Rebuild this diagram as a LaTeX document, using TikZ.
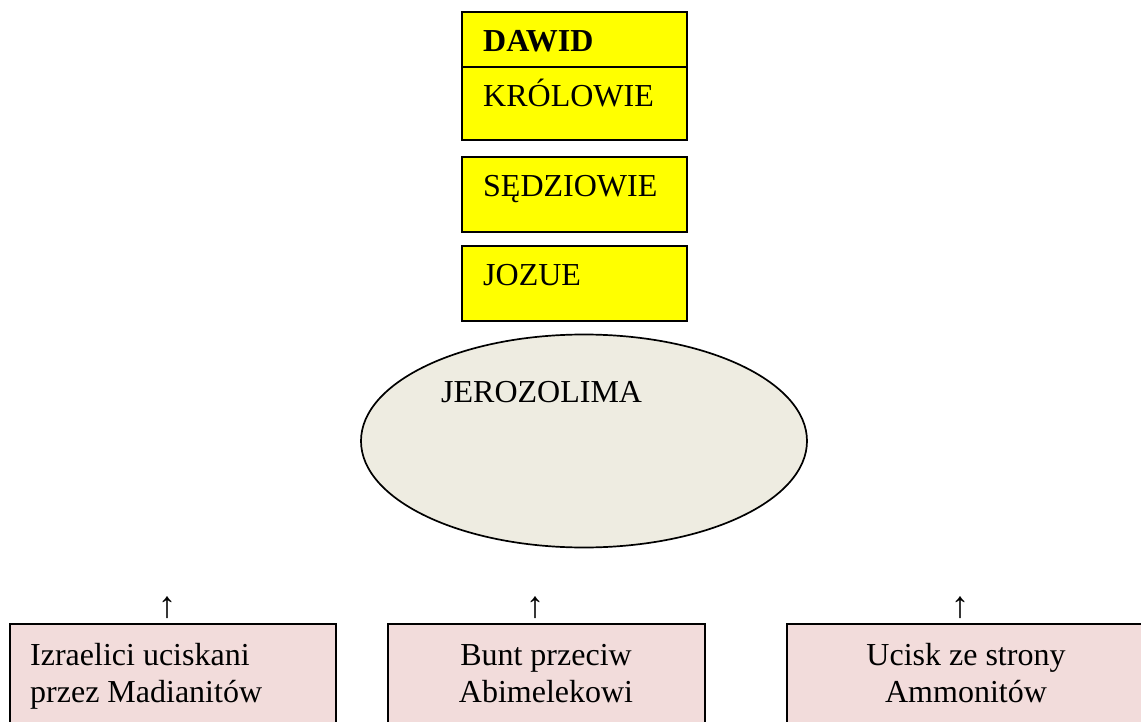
\documentclass[tikz,border=0pt]{standalone}
\usepackage{fontspec}
\setmainfont{Liberation Serif}
\usetikzlibrary{shapes.geometric}
\definecolor{boxyellow}{HTML}{FFFF00}
\definecolor{boxpink}{HTML}{F2DCDB}
\definecolor{ellfill}{HTML}{EEECE1}
\begin{document}
\begin{tikzpicture}[x=1pt,y=-1pt,
  ybox/.style={draw=black,line width=1.6pt,fill=boxyellow,rectangle,inner sep=0pt,minimum width=225pt},
  pbox/.style={draw=black,line width=1.6pt,fill=boxpink,rectangle,inner sep=0pt},
  txt/.style={inner sep=0pt,font=\fontsize{32}{36.8}\selectfont},
  txtl/.style={txt,anchor=base west},
  txtc/.style={txt,anchor=base},
  arrowglyph/.style={inner sep=0pt,anchor=base,font=\fontsize{37}{40}\selectfont}]
\useasboundingbox (0,0) rectangle (1141,722);
% top yellow boxes
\node[ybox,minimum height=128pt] (krol) at (574.5,76) {};
\coordinate (divl) at (462,67);
\coordinate (divr) at (687,67);
\draw[line width=1.6pt] (divl) -- (divr);
\node[txtl,font=\fontsize{32}{36.8}\selectfont\bfseries] (dawid) at (483,52) {DAWID};
\node[txtl] (krolt) at (483,107) {KRÓLOWIE};
\node[ybox,minimum height=75pt] (sedz) at (574.5,194.5) {};
\node[txtl] (sedzt) at (483,197) {SĘDZIOWIE};
\node[ybox,minimum height=75pt] (jozue) at (574.5,283.5) {};
\node[txtl] (jozuet) at (483,286) {JOZUE};
% ellipse
\node[ellipse,draw=black,line width=1.7pt,fill=ellfill,minimum width=446pt,minimum height=213pt,inner sep=0pt] (jer) at (584,441) {};
\node[txtl] (jert) at (441,402) {JEROZOLIMA};
% bottom boxes
\node[pbox,minimum width=326pt,minimum height=110pt] (b1) at (173,679) {};
\node[pbox,minimum width=317pt,minimum height=110pt] (b2) at (546.5,679) {};
\node[pbox,minimum width=363pt,minimum height=110pt] (b3) at (968.5,679) {};
\node[txtl] (b1a) at (30,665) {Izraelici uciskani};
\node[txtl] (b1b) at (30,702) {przez Madianitów};
\node[txtc] (b2a) at (546,665) {Bunt przeciw};
\node[txtc] (b2b) at (546,702) {Abimelekowi};
\node[txtc] (b3a) at (966,665) {Ucisk ze strony};
\node[txtc] (b3b) at (966,702) {Ammonitów};
% arrow glyphs
\node[arrowglyph] (a1) at (167,617) {↑};
\node[arrowglyph] (a2) at (535,617) {↑};
\node[arrowglyph] (a3) at (960,617) {↑};
\end{tikzpicture}
\end{document}
